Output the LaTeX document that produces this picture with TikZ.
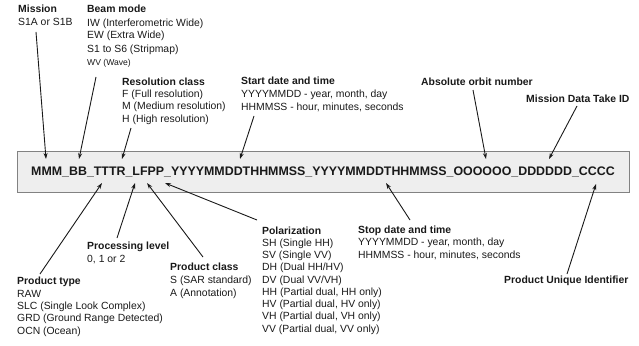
\documentclass[tikz,border=0pt]{standalone}
\usepackage{fontspec}
\setmainfont{Liberation Sans}
\usetikzlibrary{arrows.meta}
\definecolor{boxG}{RGB}{238,238,238}
\definecolor{edgeG}{RGB}{130,130,130}
\definecolor{inkK}{RGB}{25,25,25}

\begin{document}
\begin{tikzpicture}[x=1pt,y=-1pt,>={Stealth[length=6pt,width=4pt]},
  lbl/.style={anchor=base west,inner sep=0,align=left,text=inkK,font=\fontsize{10.4}{12.3}\selectfont},
  lbltop/.style={lbl,font=\fontsize{10.4}{13}\selectfont},
  arr/.style={->,line width=0.9pt,inkK}]
\useasboundingbox (0,0) rectangle (639,345);
% file name
\node[draw=edgeG,fill=boxG,line width=0.8pt,minimum width=612pt,minimum height=41pt,inner sep=0,
  text=inkK,font=\fontsize{12.4}{14}\selectfont\bfseries] (fname) at (323,171.5)
  {MMM\_BB\_TTTR\_LFPP\_YYYYMMDDTHHMMSS\_YYYYMMDDTHHMMSS\_OOOOOO\_DDDDDD\_CCCC};
% labels above (placed by the baseline of their last line)
\node[lbltop] (mis) at (18,26) {\textbf{Mission}\\S1A or S1B};
\node[lbltop] (beam) at (87,65) {\textbf{Beam mode}\\IW (Interferometric Wide)\\EW (Extra Wide)\\S1 to S6 (Stripmap)\\{\fontsize{8.6}{13}\selectfont WV (Wave)}};
\node[lbl] (res) at (122,122) {\textbf{Resolution class}\\F (Full resolution)\\M (Medium resolution)\\H (High resolution)};
\node[lbl,font=\fontsize{10.4}{12.5}\selectfont] (start) at (241,110) {\textbf{Start date and time}\\YYYYMMDD - year, month, day\\HHMMSS - hour, minutes, seconds};
\node[lbl] (orbit) at (421,85) {\textbf{Absolute orbit number}};
\node[lbl] (take) at (526,102) {\textbf{Mission Data Take ID}};
% labels below
\node[lbl] (ptype) at (17,334) {\textbf{Product type}\\RAW\\SLC (Single Look Complex)\\GRD (Ground Range Detected)\\OCN (Ocean)};
\node[lbl] (plev) at (87,262) {\textbf{Processing level}\\0, 1 or 2};
\node[lbl,font=\fontsize{10.4}{13}\selectfont] (pcls) at (170,296) {\textbf{Product class}\\S (SAR standard)\\A (Annotation)};
\node[lbl,font=\fontsize{10.4}{12.25}\selectfont] (pol) at (262,332) {\textbf{Polarization}\\SH (Single HH)\\SV (Single VV)\\DH (Dual HH/HV)\\DV (Dual VV/VH)\\HH (Partial dual, HH only)\\HV (Partial dual, HV only)\\VH (Partial dual, VH only)\\VV (Partial dual, VV only)};
\node[lbl,font=\fontsize{10.4}{12.5}\selectfont] (stop) at (358,258) {\textbf{Stop date and time}\\YYYYMMDD - year, month, day\\HHMMSS - hour, minutes, seconds};
\node[lbl] (puid) at (504,283) {\textbf{Product Unique Identifier}};
% arrow ends
\coordinate (mis-a) at (36,32);   \coordinate (mis-b) at (46,159);
\coordinate (beam-a) at (96,77);  \coordinate (beam-b) at (79,159);
\coordinate (res-a) at (131,128); \coordinate (res-b) at (122,159);
\coordinate (start-a) at (254,116); \coordinate (start-b) at (240,159);
\coordinate (orbit-a) at (473,90); \coordinate (orbit-b) at (486,159);
\coordinate (take-a) at (577,106); \coordinate (take-b) at (549,159);
\coordinate (ptype-a) at (40,274); \coordinate (ptype-b) at (102,183);
\coordinate (plev-a) at (117,238); \coordinate (plev-b) at (135,183);
\coordinate (pcls-a) at (203,257); \coordinate (pcls-b) at (147,183);
\coordinate (pol-a) at (257,220); \coordinate (pol-b) at (165,183);
\coordinate (stop-a) at (410,220); \coordinate (stop-b) at (386,183);
\coordinate (puid-a) at (567,274); \coordinate (puid-b) at (596,184);
\foreach \k in {mis,beam,res,start,orbit,take,ptype,plev,pcls,pol,stop,puid}
  \draw[arr] (\k-a) -- (\k-b);
\end{tikzpicture}
\end{document}
